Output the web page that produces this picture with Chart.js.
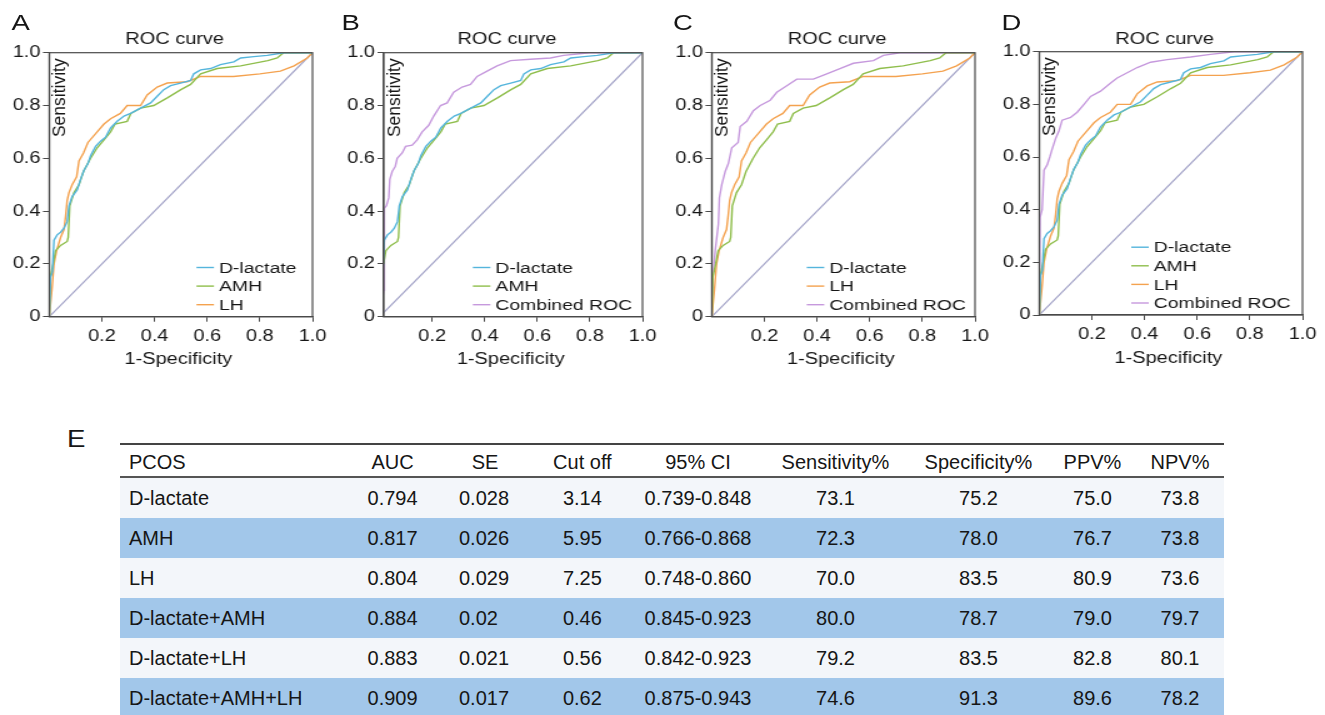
<!DOCTYPE html>
<html lang="en">
<head>
<meta charset="utf-8">
<title>ROC curves</title>
<script src="https://cdn.jsdelivr.net/npm/chart.js@4.4.1/dist/chart.umd.min.js"></script>
<style>
body { margin: 0; background: #fff; font-family: "Liberation Sans", Arial, sans-serif; color: #161616; }
#page { position: relative; width: 1325px; height: 715px; overflow: hidden; }
#panels { position: absolute; left: 0; top: 0; width: 1060px; height: 380px; transform: scaleX(1.25); transform-origin: 0 0; }
#panels canvas { position: absolute; top: 0; }
.letter { position: absolute; font-size: 22px; line-height: 22px; top: 11.5px; }
#letterE { position: absolute; left: 67px; top: 427px; font-size: 24px; line-height: 24px; transform: scaleX(1.15); transform-origin: 0 0; }
#tbl { position: absolute; left: 120px; top: 443px; width: 1104px; height: 272px; font-size: 20px; }
#tbl .row { position: absolute; left: 0; width: 100%; }
#tbl .rule { position: absolute; left: 0; width: 100%; height: 2px; background: #444; }
#tbl span { position: absolute; top: 0; white-space: nowrap; }
</style>
</head>
<body>
<div id="page">
  <div id="panels">
    <div class="letter" style="left:9.3px">A</div>
    <div class="letter" style="left:273.3px">B</div>
    <div class="letter" style="left:538.4px">C</div>
    <div class="letter" style="left:801.3px">D</div>
  </div>
  <div id="letterE">E</div>
  <div id="tbl"></div>
</div>
<script>
// ROC curve points (1-Specificity, Sensitivity)
const dlacX = [0, 0.005, 0.012, 0.018, 0.03, 0.043, 0.056, 0.068, 0.075, 0.087, 0.106, 0.119, 0.132, 0.147, 0.157, 0.176, 0.195, 0.214, 0.233, 0.258, 0.284, 0.309, 0.347, 0.385, 0.41, 0.435, 0.461, 0.499, 0.537, 0.549, 0.575, 0.613, 0.65, 0.701, 0.727, 0.777, 0.828, 0.891, 1];
const dlacY = [0, 0.15, 0.17, 0.29, 0.31, 0.32, 0.335, 0.36, 0.42, 0.455, 0.48, 0.52, 0.555, 0.58, 0.61, 0.645, 0.665, 0.68, 0.715, 0.74, 0.76, 0.77, 0.79, 0.81, 0.835, 0.86, 0.875, 0.885, 0.895, 0.92, 0.935, 0.94, 0.955, 0.965, 0.98, 0.985, 0.99, 1, 1];

const amhX = [0, 0.004, 0.015, 0.024, 0.043, 0.068, 0.072, 0.078, 0.094, 0.113, 0.13, 0.157, 0.182, 0.208, 0.233, 0.25, 0.296, 0.31, 0.347, 0.397, 0.45, 0.5, 0.537, 0.575, 0.638, 0.727, 0.83, 0.866, 0.89, 1];
const amhY = [0, 0.15, 0.2, 0.25, 0.27, 0.285, 0.3, 0.42, 0.47, 0.5, 0.55, 0.6, 0.64, 0.67, 0.7, 0.73, 0.74, 0.77, 0.79, 0.8, 0.83, 0.86, 0.88, 0.92, 0.94, 0.95, 0.97, 0.98, 1, 1];

const lhX = [0, 0.01, 0.018, 0.028, 0.043, 0.056, 0.062, 0.068, 0.075, 0.087, 0.104, 0.113, 0.13, 0.147, 0.182, 0.208, 0.233, 0.27, 0.296, 0.347, 0.372, 0.41, 0.448, 0.524, 0.575, 0.7, 0.8, 0.878, 0.93, 0.98, 1];
const lhY = [0, 0.1, 0.2, 0.25, 0.3, 0.33, 0.38, 0.44, 0.47, 0.5, 0.53, 0.59, 0.62, 0.66, 0.7, 0.73, 0.75, 0.77, 0.8, 0.8, 0.84, 0.87, 0.885, 0.89, 0.91, 0.91, 0.92, 0.93, 0.95, 0.98, 1];

// combined: D-lactate+AMH (B), D-lactate+LH (C), all three (D)
const combBX = [0, 0.016, 0.018, 0.026, 0.035, 0.039, 0.048, 0.06, 0.067, 0.086, 0.099, 0.124, 0.143, 0.162, 0.187, 0.206, 0.232, 0.257, 0.282, 0.314, 0.346, 0.371, 0.409, 0.447, 0.498, 0.574, 0.65, 0.7, 0.8, 1];
const combBY = [0, 0.1, 0.41, 0.42, 0.45, 0.52, 0.55, 0.57, 0.6, 0.62, 0.645, 0.65, 0.67, 0.7, 0.725, 0.76, 0.8, 0.81, 0.85, 0.87, 0.88, 0.91, 0.93, 0.95, 0.97, 0.975, 0.98, 0.99, 1, 1];

const combCX = [0, 0.004, 0.013, 0.019, 0.025, 0.029, 0.038, 0.051, 0.063, 0.076, 0.1, 0.108, 0.133, 0.158, 0.184, 0.222, 0.247, 0.285, 0.323, 0.386, 0.437, 0.487, 0.538, 0.614, 0.652, 0.715, 1];
const combCY = [0, 0.15, 0.25, 0.3, 0.35, 0.45, 0.5, 0.55, 0.58, 0.64, 0.66, 0.72, 0.74, 0.78, 0.8, 0.82, 0.85, 0.875, 0.9, 0.9, 0.92, 0.94, 0.96, 0.97, 0.99, 1, 1];

const combDX = [0, 0.003, 0.011, 0.018, 0.03, 0.04, 0.049, 0.062, 0.075, 0.087, 0.119, 0.144, 0.17, 0.195, 0.233, 0.27, 0.296, 0.334, 0.372, 0.423, 0.486, 0.575, 0.65, 0.74, 1];
const combDY = [0, 0.37, 0.4, 0.55, 0.57, 0.6, 0.63, 0.67, 0.7, 0.74, 0.75, 0.77, 0.8, 0.83, 0.85, 0.88, 0.9, 0.92, 0.94, 0.96, 0.97, 0.98, 0.99, 1, 1];

const diagX = [0, 1];
const diagY = [0, 1];

const xTicks = [0.2, 0.4, 0.6, 0.8, 1.0];
const yTicks = [0, 0.2, 0.4, 0.6, 0.8, 1.0];

// table E
const tableHead = ['PCOS', 'AUC', 'SE', 'Cut off', '95% CI', 'Sensitivity%', 'Specificity%', 'PPV%', 'NPV%'];
const rowNames = ['D-lactate', 'AMH', 'LH', 'D-lactate+AMH', 'D-lactate+LH', 'D-lactate+AMH+LH'];
const aucVals = ['0.794', '0.817', '0.804', '0.884', '0.883', '0.909'];
const seVals = ['0.028', '0.026', '0.029', '0.02', '0.021', '0.017'];
const cutVals = ['3.14', '5.95', '7.25', '0.46', '0.56', '0.62'];
const ciVals = ['0.739-0.848', '0.766-0.868', '0.748-0.860', '0.845-0.923', '0.842-0.923', '0.875-0.943'];
const sensVals = ['73.1', '72.3', '70.0', '80.0', '79.2', '74.6'];
const specVals = ['75.2', '78.0', '83.5', '78.7', '83.5', '91.3'];
const ppvVals = ['75.0', '76.7', '80.9', '79.0', '82.8', '89.6'];
const npvVals = ['73.8', '73.8', '73.6', '79.7', '80.1', '78.2'];

const colDlac = '#54b5dc', colAmh = '#8fbe4c', colLh = '#f4a24f', colComb = '#c699dd', colDiag = '#a4a4c8';
const axisCol = '#4a4a4a', textCol = '#161616';
const FONT = '"Liberation Sans", Arial, sans-serif';
const H = 380, YW = 39, PADR = 25;

function pts(xs, ys) { return xs.map((x, i) => ({x: x, y: ys[i]})); }

const decor = {
  id: 'decor',
  afterDraw(chart, args, o) {
    const ctx = chart.ctx, a = chart.chartArea;
    ctx.save();
    ctx.strokeStyle = axisCol;
    ctx.lineWidth = 1.2;
    ctx.strokeRect(a.left, a.top, a.right - a.left, a.bottom - a.top);

    ctx.fillStyle = textCol;
    ctx.font = '16px ' + FONT;
    ctx.textAlign = 'center';
    ctx.textBaseline = 'alphabetic';
    const cx = (a.left + a.right) / 2;
    ctx.fillText('ROC curve', cx - 5, 43.5);
    ctx.fillText('1-Specificity', cx - 2, a.bottom + 47.5);

    // legend, bottom right inside the plot
    const items = o.legend, n = items.length;
    ctx.font = '15.5px ' + FONT;
    ctx.textAlign = 'left';
    ctx.textBaseline = 'middle';
    const w = Math.max(...items.map(it => ctx.measureText(it[0]).width));
    const x0 = a.right - o.gap - w - 18;
    items.forEach((it, i) => {
      const y = a.bottom - 12 - (n - 1 - i) * 18.6;
      ctx.strokeStyle = it[1];
      ctx.lineWidth = 1.4;
      ctx.beginPath(); ctx.moveTo(x0, y); ctx.lineTo(x0 + 14, y); ctx.stroke();
      ctx.fillText(it[0], x0 + 18, y + 1);
    });

    // y title sits inside the plot
    ctx.translate(a.left + 9, a.top + 5.6);
    ctx.scale(0.8, 1);
    ctx.rotate(-Math.PI / 2);
    ctx.font = '17.5px ' + FONT;
    ctx.textAlign = 'right';
    ctx.fillText('Sensitivity', 0, 0);
    ctx.restore();
  }
};

const panels = [
  {left: 38.96, width: 210.6, top: 52.7, bottom: 316.7, xMin: 0, gap: 12.8,
   lines: [[dlacX, dlacY, colDlac], [amhX, amhY, colAmh], [lhX, lhY, colLh]],
   legend: [['D-lactate', colDlac], ['AMH', colAmh], ['LH', colLh]]},
  {left: 306.6, width: 207, top: 52.7, bottom: 316.7, xMin: 0.016, gap: 8.3,
   lines: [[dlacX, dlacY, colDlac], [amhX, amhY, colAmh], [combBX, combBY, colComb]],
   legend: [['D-lactate', colDlac], ['AMH', colAmh], ['Combined ROC', colComb]]},
  {left: 569.4, width: 210.6, top: 52.7, bottom: 316.7, xMin: 0, gap: 7.2,
   lines: [[amhX, amhY, colAmh], [lhX, lhY, colLh], [combCX, combCY, colComb]],
   legend: [['D-lactate', colDlac], ['LH', colLh], ['Combined ROC', colComb]]},
  {left: 831, width: 210.6, top: 51.7, bottom: 315, xMin: 0, gap: 9.6,
   lines: [[dlacX, dlacY, colDlac], [amhX, amhY, colAmh], [lhX, lhY, colLh], [combDX, combDY, colComb]],
   legend: [['D-lactate', colDlac], ['AMH', colAmh], ['LH', colLh], ['Combined ROC', colComb]]}
];

const wrap = document.getElementById('panels');
panels.forEach(p => {
  const cv = document.createElement('canvas');
  const W = YW + p.width + PADR;
  cv.width = Math.round(W);
  cv.height = H;
  cv.style.left = (p.left - YW) + 'px';
  wrap.insertBefore(cv, wrap.firstChild);

  const datasets = p.lines.map((l, i) => ({
    data: pts(l[0], l[1]), borderColor: l[2], borderWidth: 1.4,
    pointRadius: 0, tension: 0, fill: false, order: i
  }));
  datasets.push({data: pts(diagX, diagY), borderColor: colDiag, borderWidth: 1.2,
    pointRadius: 0, tension: 0, fill: false, order: 10});

  const tickFont = {family: FONT, size: 16};
  new Chart(cv, {
    type: 'line',
    data: {datasets: datasets},
    options: {
      responsive: false,
      animation: false,
      devicePixelRatio: 1,
      layout: {padding: {left: cv.width - W, right: PADR, top: p.top, bottom: 0}},
      plugins: {legend: {display: false}, tooltip: {enabled: false},
        decor: {legend: p.legend, gap: p.gap}},
      scales: {
        x: {
          type: 'linear', min: p.xMin, max: 1,
          afterBuildTicks: s => { s.ticks = xTicks.map(v => ({value: v})); },
          afterFit: s => { s.height = H - p.bottom; },
          grid: {display: true, drawOnChartArea: false, drawTicks: true, tickLength: 5, color: axisCol},
          border: {display: true, color: axisCol, width: 1.2},
          ticks: {font: tickFont, color: textCol, padding: 5, maxRotation: 0, autoSkip: false,
            callback: v => v.toFixed(1)}
        },
        y: {
          type: 'linear', min: 0, max: 1,
          afterBuildTicks: s => { s.ticks = yTicks.map(v => ({value: v})); },
          afterFit: s => { s.width = YW; },
          grid: {display: true, drawOnChartArea: false, drawTicks: true, tickLength: 5, color: axisCol},
          border: {display: true, color: axisCol, width: 1.2},
          ticks: {font: tickFont, color: textCol, padding: 2, autoSkip: false,
            callback: v => v === 0 ? '0' : v.toFixed(1)}
        }
      }
    },
    plugins: [decor]
  });
});

// table
const cols = [
  {x: 9, align: 'left'}, {x: 272.6}, {x: 365, vx: 339, valign: 'left'}, {x: 462.4},
  {x: 578}, {x: 715.5}, {x: 858.5}, {x: 972.5}, {x: 1060}
];
const tbl = document.getElementById('tbl');
function addCell(row, text, x, align) {
  const s = document.createElement('span');
  s.textContent = text;
  s.style.left = x + 'px';
  if (align !== 'left') s.style.transform = 'translateX(-50%)';
  row.appendChild(s);
}
function addRow(top, h, lh, bg, cells, isHead) {
  const r = document.createElement('div');
  r.className = 'row';
  r.style.top = top + 'px';
  r.style.height = h + 'px';
  r.style.lineHeight = lh + 'px';
  if (bg) r.style.background = bg;
  cells.forEach((t, i) => {
    const c = cols[i];
    if (!isHead && c.vx !== undefined) addCell(r, t, c.vx, c.valign);
    else addCell(r, t, c.x, c.align);
  });
  tbl.appendChild(r);
}
const rule1 = document.createElement('div'); rule1.className = 'rule'; rule1.style.top = '0px'; tbl.appendChild(rule1);
addRow(2, 31, 34, null, tableHead, true);
const rule2 = document.createElement('div'); rule2.className = 'rule'; rule2.style.top = '33px'; rule2.style.background = '#555'; tbl.appendChild(rule2);
rowNames.forEach((name, i) => {
  addRow(35 + i * 40, 40, 40, i % 2 ? '#a2c7ea' : '#f3f6fa',
    [name, aucVals[i], seVals[i], cutVals[i], ciVals[i], sensVals[i], specVals[i], ppvVals[i], npvVals[i]], false);
});
</script>
</body>
</html>
